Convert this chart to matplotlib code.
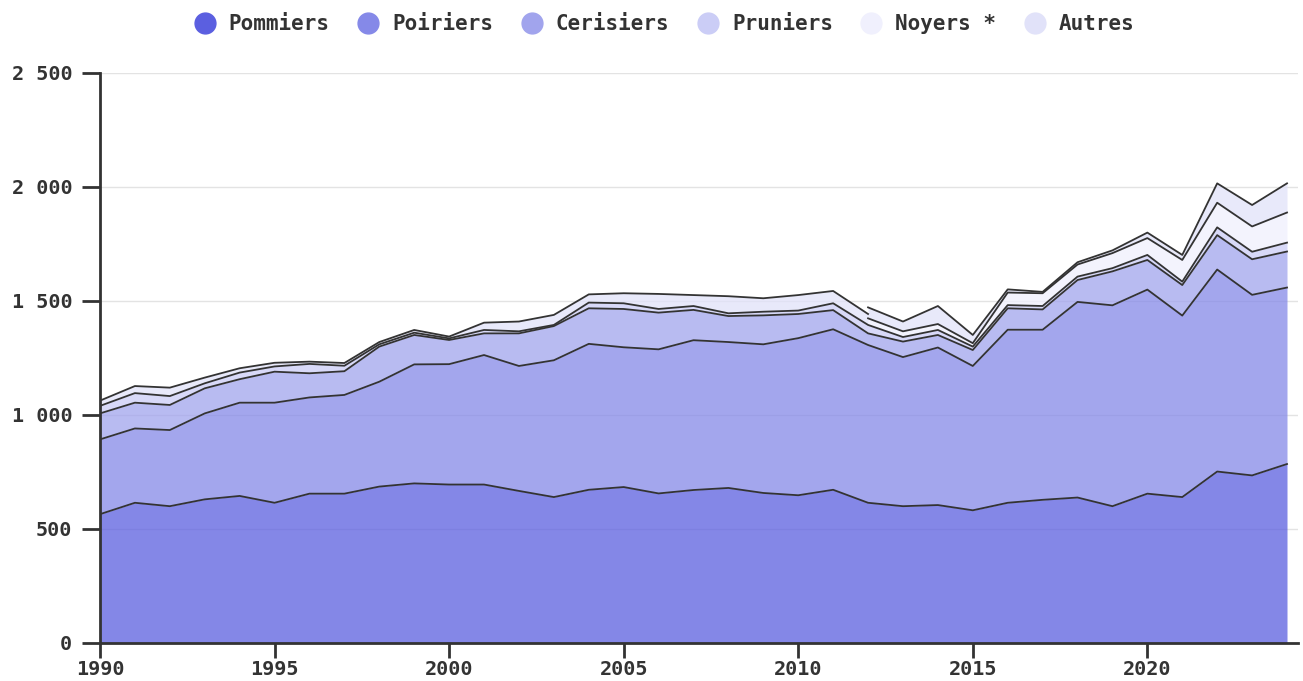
import numpy as np
import matplotlib
matplotlib.use("Agg")
import matplotlib.pyplot as plt
from matplotlib.lines import Line2D
from matplotlib.ticker import FuncFormatter, MultipleLocator

years = list(range(1990, 2025))

pommiers = [565, 615, 600, 630, 645, 615, 655, 655, 686, 700, 695, 695, 667, 640, 672,
            684, 656, 671, 680, 658, 648, 672, 615, 600, 605, 582, 615, 628, 638, 600,
            655, 640, 752, 735, 785]
poiriers = [328, 326, 334, 377, 409, 439, 422, 433, 460, 522, 528, 568, 548, 600, 640,
            613, 632, 657, 640, 652, 689, 704, 692, 654, 691, 633, 759, 746, 858, 881,
            895, 796, 886, 792, 774]
cerisiers = [114, 113, 110, 110, 103, 136, 106, 104, 154, 129, 106, 95, 143, 150, 156,
             168, 161, 133, 114, 127, 106, 84, 51, 68, 55, 70, 94, 89, 96, 149,
             130, 134, 151, 156, 158]
pruniers = [33, 42, 39, 22, 29, 23, 41, 24, 10, 10, 7, 15, 9, 5, 25,
            25, 16, 17, 12, 16, 15, 30, 37, 20, 22, 15, 14, 15, 15, 14,
            22, 15, 34, 33, 39]
noyers = [None] * 22 + [29, 25, 26, 15, 55, 56, 53, 66, 74, 95, 108, 111, 132]
autres = [23, 31, 37, 25, 19, 16, 10, 12, 10, 12, 8, 32, 43, 44, 36,
          44, 66, 48, 75, 59, 68, 54, 48, 43, 79, 36, 14, 6, 10, 12,
          24, 22, 85, 94, 128]

labels = ["Pommiers", "Poiriers", "Cerisiers", "Pruniers", "Noyers *", "Autres"]
colors = ["#5b5fe0", "#8589e8", "#a1a4ed", "#cbcdf6", "#f0f0fd", "#e1e2f9"]
ALPHA = 0.75
LINE = "#333333"

plt.rcParams['font.family'] = ['DejaVu Sans Mono']
plt.rcParams['font.weight'] = 'bold'

x = np.array(years, dtype=float)
s1 = np.array(pommiers, float)
s2 = np.array(poiriers, float)
s3 = np.array(cerisiers, float)
s4 = np.array(pruniers, float)
s5 = np.array([np.nan if v is None else v for v in noyers], float)
s6 = np.array(autres, float)

c1 = s1
c2 = c1 + s2
c3 = c2 + s3
c4 = c3 + s4
c5 = c4 + s5  # NaN where Noyers missing

fig = plt.figure(figsize=(13.03, 6.81), dpi=100)
ax = fig.add_axes([100/1303, 38/681, (1298-100)/1303, (643-73)/681])

ax.fill_between(x, 0, c1, color=colors[0], alpha=ALPHA, lw=0)
ax.fill_between(x, c1, c2, color=colors[1], alpha=ALPHA, lw=0)
ax.fill_between(x, c2, c3, color=colors[2], alpha=ALPHA, lw=0)
ax.fill_between(x, c3, c4, color=colors[3], alpha=ALPHA, lw=0)
m = ~np.isnan(s5)
ax.fill_between(x[m], c4[m], c5[m], color=colors[4], alpha=ALPHA, lw=0)

first = int(np.argmax(m))
pre = slice(0, first + 1)
post = slice(first, None)
ax.fill_between(x[pre], c4[pre], c4[pre] + s6[pre], color=colors[5], alpha=ALPHA, lw=0)
ax.fill_between(x[post], c5[post], c5[post] + s6[post], color=colors[5], alpha=ALPHA, lw=0)

lw = 1.3
for c in (c1, c2, c3, c4, c5):
    ax.plot(x, c, color=LINE, lw=lw, zorder=3)
ax.plot(x[pre], c4[pre] + s6[pre], color=LINE, lw=lw, zorder=3)
ax.plot(x[post], c5[post] + s6[post], color=LINE, lw=lw, zorder=3)

ax.set_xlim(1990, 2024 + 11/34.94)
ax.set_ylim(0, 2500)
ax.yaxis.set_major_locator(MultipleLocator(500))
ax.xaxis.set_major_locator(MultipleLocator(5))
ax.yaxis.set_major_formatter(FuncFormatter(lambda v, p: f"{int(v):,}".replace(",", " ")))
ax.xaxis.set_major_formatter(FuncFormatter(lambda v, p: f"{int(v)}"))
ax.grid(axis='y', color='#e3e3e3', lw=1)
ax.set_axisbelow(True)
for sp in ('top', 'right'):
    ax.spines[sp].set_visible(False)
for sp in ('left', 'bottom'):
    ax.spines[sp].set_color('#333333')
    ax.spines[sp].set_linewidth(2)
ax.spines['bottom'].set_zorder(5)
ax.tick_params(axis='y', length=13, width=2, color='#333333', pad=7,
               labelsize=14.5, labelcolor='#333333')
ax.tick_params(axis='x', length=11, width=2, color='#333333', pad=1,
               labelsize=14.5, labelcolor='#333333')
for t in ax.get_xticklabels() + ax.get_yticklabels():
    t.set_fontweight('bold')

handles = [Line2D([], [], marker='o', ls='none', markersize=15, markerfacecolor=c,
                  markeredgecolor=c) for c in colors]
leg = fig.legend(handles, labels, loc='upper center', bbox_to_anchor=(0.506, 1.007),
                 ncol=6, frameon=False, handletextpad=0.15, columnspacing=0.85,
                 prop={'family': 'DejaVu Sans Mono', 'weight': 'bold', 'size': 15})
for t in leg.get_texts():
    t.set_color('#333333')

fig.savefig("out.png", dpi=100)
